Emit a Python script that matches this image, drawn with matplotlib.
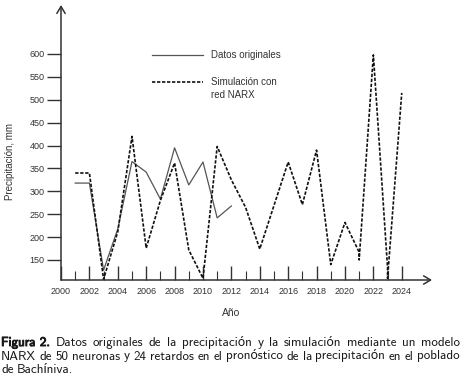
import matplotlib
matplotlib.use("Agg")
import matplotlib.pyplot as plt
import matplotlib.patheffects as pe

# data
orig_years = [2001, 2002, 2003, 2004, 2005, 2006, 2007, 2008, 2009, 2010, 2011, 2012]
orig_vals = [318, 318, 128, 218, 365, 342, 283, 395, 314, 364, 242, 268]

sim_years = [2001, 2002, 2003, 2004, 2005, 2006, 2007, 2008, 2009, 2010, 2011, 2012,
             2013, 2014, 2015, 2016, 2017, 2018, 2019, 2020, 2021, 2021, 2022, 2023,
             2023, 2024]
sim_vals = [340, 340, 108, 212, 420, 176, 280, 362, 172, 110, 398, 325,
            265, 174, 269, 364, 271, 390, 140, 232, 167, 150, 598, 133,
            110, 515]

major_years = list(range(2000, 2025, 2))
minor_years = list(range(2001, 2024, 2))
y_ticks = list(range(150, 601, 50))

labels = ["Datos originales", "Simulación con"]
label_cont = "red NARX"
caption_lines = [
    ["Figura 2.", "Datos", "originales", "de", "la", "precipitación", "y", "la",
     "simulación", "mediante", "un", "modelo"],
    ["NARX", "de", "50", "neuronas", "y", "24", "retardos", "en", "el", "pronóstico",
     "de", "la", "precipitación", "en", "el", "poblado"],
    ["de", "Bachíniva."],
]

W, H = 462, 387
axc = "#333333"
plt.rcParams["font.family"] = ["Liberation Sans", "DejaVu Sans"]

fig = plt.figure(figsize=(W / 100, H / 100), dpi=100)
ax = fig.add_axes([61 / W, 1 - 280 / H, (432 - 61) / W, (280 - 5) / H])
ax.set_xlim(2000, 2026.13)
ax.set_ylim(106.3, 707)

ax.plot(orig_years, orig_vals, color="#555555", lw=0.9, label=labels[0])
ax.plot(sim_years, sim_vals, color="#111111", lw=1.2, dashes=(2, 1), label=labels[1])

for s in ax.spines.values():
    s.set_visible(False)
arrow = dict(arrowstyle="->,head_length=0.5,head_width=0.3", lw=1.1, color=axc,
             shrinkA=0, shrinkB=0)
ax.annotate("", xy=(0, 1), xytext=(0, 0), xycoords="axes fraction", arrowprops=arrow)
ax.annotate("", xy=(1, 0), xytext=(0, 0), xycoords="axes fraction", arrowprops=arrow)

ax.set_xticks(major_years)
ax.set_xticks(minor_years, minor=True)
ax.set_xticklabels([str(y) for y in major_years])
ax.tick_params(axis="x", which="major", direction="in", length=10, width=1,
               color=axc, labelsize=6.5, labelcolor=axc, pad=5)
ax.tick_params(axis="x", which="minor", direction="in", length=6.5, width=0.8,
               color=axc)
ax.set_yticks(y_ticks)
ax.tick_params(axis="y", direction="out", length=10, width=1, color=axc,
               labelsize=6.5, labelcolor=axc, pad=2)

ax.set_xlabel("Año", fontsize=7.5, color=axc)
ax.xaxis.set_label_coords((231 - 61) / 371, -(308 - 280) / 275)
ax.set_ylabel("Precipitación, mm", fontsize=7, color=axc)
ax.yaxis.set_label_coords(-(61 - 15) / 371, (280 - 161) / 275)

leg = ax.legend(loc="upper left", bbox_to_anchor=((152 - 61) / 371, (280 - 50) / 275),
                frameon=False, fontsize=7, handlelength=5.2, handletextpad=0.9,
                labelspacing=1.75, borderpad=0, borderaxespad=0, labelcolor=axc)

renderer = fig.canvas.get_renderer()
fig.canvas.draw()
# second line of the simulation label, under the legend text
bb = leg.get_texts()[1].get_window_extent(renderer)
fig.text(bb.x0 / W, (bb.y0 - 13 + 2.5) / H, label_cont, fontsize=7, color=axc,
         va="baseline", ha="left")

# caption, justified word by word
cap_font = ["cmss10", "Lato"]
baselines = [346, 359.5, 373]
x0, x1 = 1, 460
for li, words in enumerate(caption_lines):
    texts = []
    for wi, w in enumerate(words):
        t = fig.text(0, 1 - baselines[li] / H, w, fontsize=9.4, family=cap_font,
                     color="#1a1a1a", va="baseline", ha="left")
        if li == 0 and wi == 0:
            t.set_path_effects([pe.withStroke(linewidth=0.7, foreground="#1a1a1a")])
        texts.append(t)
    widths = [t.get_window_extent(renderer).width for t in texts]
    if li < len(caption_lines) - 1:
        gap = (x1 - x0 - sum(widths)) / (len(words) - 1)
    else:
        gap = 3.5
    x = x0
    for t, w in zip(texts, widths):
        t.set_x(x / W)
        x += w + gap

fig.savefig("out.png", dpi=100)
